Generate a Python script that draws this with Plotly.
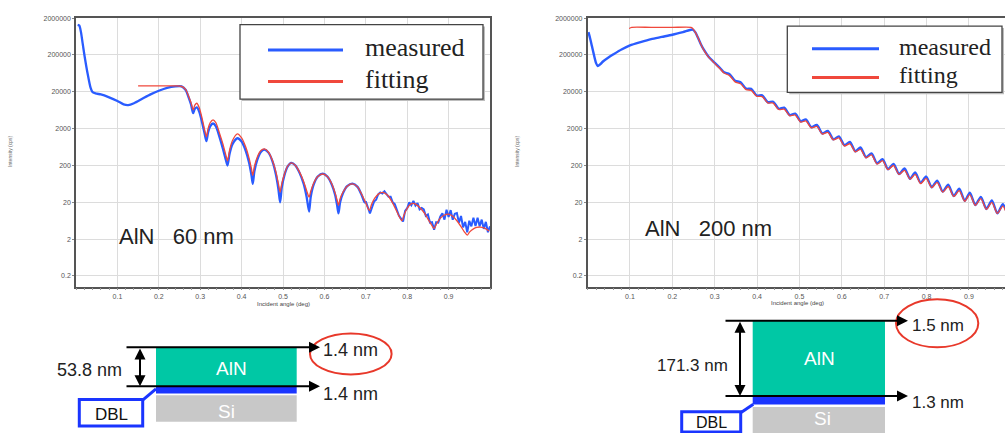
import numpy as np
import plotly.graph_objects as go

W, H = 1005, 433
def px(x): return x / W
def py(y): return 1 - y / H

BLUE = "#2a5cff"
RED = "#f0483c"

ang60_meas = [0.004, 0.008, 0.012, 0.016, 0.020, 0.025, 0.030, 0.035, 0.040, 0.050, 0.060, 0.080,
              0.100, 0.115, 0.126, 0.140, 0.160, 0.180, 0.200, 0.220, 0.240, 0.255, 0.265, 0.272,
              0.278, 0.283, 0.287, 0.292, 0.298, 0.305, 0.311, 0.315, 0.319, 0.324, 0.331, 0.338,
              0.346, 0.355, 0.362, 0.366, 0.371, 0.378, 0.390, 0.400, 0.410, 0.418, 0.424, 0.427,
              0.431, 0.438, 0.446, 0.455, 0.465, 0.475, 0.483, 0.489, 0.493, 0.497, 0.503, 0.511,
              0.520, 0.530, 0.540, 0.550, 0.557, 0.563, 0.567, 0.574, 0.584, 0.596, 0.607, 0.618,
              0.626, 0.631, 0.634, 0.638, 0.645, 0.655, 0.668, 0.680, 0.690, 0.697, 0.700]
log60_meas = [6.12, 6.10, 5.92, 5.62, 5.32, 4.98, 4.68, 4.42, 4.29, 4.25, 4.23, 4.15,
              4.05, 3.96, 3.94, 3.99, 4.11, 4.23, 4.33, 4.41, 4.45, 4.45, 4.35, 4.15,
              3.95, 3.72, 3.84, 3.88, 3.75, 3.45, 3.15, 2.96, 3.20, 3.36, 3.44, 3.36,
              3.10, 2.75, 2.45, 2.30, 2.62, 2.88, 3.04, 2.95, 2.70, 2.38, 2.02, 1.80,
              2.15, 2.46, 2.66, 2.73, 2.65, 2.40, 2.05, 1.65, 1.30, 1.70, 2.02, 2.27,
              2.37, 2.30, 2.10, 1.80, 1.45, 1.05, 1.45, 1.78, 2.00, 2.08, 2.00, 1.78,
              1.50, 1.20, 1.00, 1.30, 1.55, 1.74, 1.81, 1.72, 1.50, 1.30, 1.33]

# noisy tail of the measured 60 nm curve
ang60_tail = [0.700, 0.705, 0.710, 0.715, 0.720, 0.725, 0.730, 0.735, 0.740, 0.745, 0.750,
              0.755, 0.760, 0.765, 0.770, 0.775, 0.780, 0.785, 0.790, 0.795, 0.800, 0.805,
              0.810, 0.815, 0.820, 0.825, 0.830, 0.835, 0.840, 0.845, 0.850, 0.855, 0.860,
              0.865, 0.870, 0.875, 0.880, 0.885, 0.890, 0.895, 0.900, 0.905, 0.910, 0.915,
              0.920, 0.925, 0.930, 0.935, 0.940, 0.945, 0.950, 0.955, 0.960, 0.965, 0.970,
              0.975, 0.980, 0.985, 0.990, 0.995, 1.000]
log60_tail = [1.33, 1.13, 1.00, 1.16, 1.32, 1.37, 1.52, 1.57, 1.54, 1.60, 1.52,
              1.45, 1.45, 1.30, 1.25, 1.11, 0.94, 0.86, 0.78, 1.07, 1.14, 1.30,
              1.22, 1.34, 1.21, 1.28, 1.11, 1.15, 1.11, 0.93, 0.97, 0.75, 0.76,
              0.56, 0.76, 0.75, 0.92, 1.00, 0.83, 1.10, 0.90, 1.09, 0.83, 0.99,
              1.01, 0.75, 0.93, 0.62, 0.77, 0.49, 0.80, 0.65, 0.88, 0.66, 0.88,
              0.65, 0.83, 0.58, 0.77, 0.49, 0.65]

ang60_fit = [0.150, 0.200, 0.240, 0.255, 0.265, 0.272, 0.278, 0.283, 0.287, 0.292, 0.298,
             0.305, 0.311, 0.315, 0.319, 0.324, 0.331, 0.338, 0.346, 0.355, 0.362, 0.366,
             0.371, 0.378, 0.390, 0.400, 0.410, 0.418, 0.424, 0.427, 0.431, 0.438, 0.446,
             0.455, 0.465, 0.475, 0.483, 0.489, 0.493, 0.497, 0.503, 0.511, 0.520, 0.530,
             0.540, 0.550, 0.557, 0.563, 0.567, 0.574, 0.584, 0.596, 0.607, 0.618, 0.626,
             0.631, 0.634, 0.638, 0.645, 0.655, 0.668, 0.680, 0.690, 0.700, 0.706, 0.709,
             0.714, 0.722, 0.731, 0.741, 0.752, 0.762, 0.772, 0.780, 0.787, 0.792, 0.799,
             0.806, 0.813, 0.822, 0.832, 0.842, 0.851, 0.858, 0.865, 0.871, 0.879, 0.889,
             0.900, 0.910, 0.920, 0.930, 0.938, 0.945, 0.951, 0.960, 0.968, 0.977, 0.987, 0.998]
log60_fit = [4.46, 4.46, 4.46, 4.45, 4.36, 4.18, 4.00, 3.81, 3.94, 3.99, 3.86,
             3.56, 3.25, 3.08, 3.30, 3.46, 3.54, 3.46, 3.20, 2.88, 2.58, 2.43,
             2.72, 2.98, 3.16, 3.05, 2.80, 2.50, 2.20, 2.03, 2.28, 2.53, 2.70,
             2.75, 2.66, 2.42, 2.12, 1.80, 1.58, 1.80, 2.05, 2.28, 2.37, 2.30,
             2.12, 1.86, 1.62, 1.44, 1.60, 1.82, 2.00, 2.07, 2.00, 1.80, 1.55,
             1.35, 1.22, 1.40, 1.58, 1.74, 1.80, 1.72, 1.52, 1.28, 1.12, 1.08,
             1.25, 1.42, 1.53, 1.57, 1.50, 1.34, 1.12, 0.93, 0.80, 0.95, 1.12,
             1.23, 1.27, 1.24, 1.14, 1.00, 0.83, 0.70, 0.59, 0.72, 0.86, 0.95,
             0.98, 0.92, 0.80, 0.64, 0.50, 0.41, 0.50, 0.58, 0.62, 0.63, 0.60, 0.52]

# ---------------- data: AlN 200 nm ----------------
ang200_meas = [0.002, 0.006, 0.010, 0.015, 0.020, 0.024, 0.030, 0.037, 0.050, 0.061, 0.080,
               0.100, 0.125, 0.150, 0.175, 0.200, 0.225, 0.248, 0.254, 0.260, 0.267, 0.275,
               0.285, 0.295, 0.305, 0.313, 0.322, 0.335, 0.348, 0.361, 0.374, 0.386, 0.399,
               0.412, 0.425, 0.438, 0.451, 0.464, 0.477, 0.490, 0.503, 0.515, 0.528, 0.541,
               0.554, 0.567, 0.580, 0.593, 0.606, 0.619, 0.632, 0.644, 0.657, 0.670, 0.683,
               0.696, 0.709, 0.722, 0.735, 0.748, 0.761, 0.773, 0.786, 0.799, 0.812, 0.825,
               0.838, 0.851, 0.864, 0.877, 0.890, 0.902, 0.915, 0.928, 0.941, 0.954, 0.967,
               0.980, 0.993]
log200_meas = [5.92, 5.75, 5.55, 5.30, 5.08, 5.00, 5.05, 5.13, 5.24, 5.32, 5.45,
               5.56, 5.65, 5.73, 5.79, 5.85, 5.92, 5.99, 5.92, 5.78, 5.60, 5.43,
               5.26, 5.14, 5.03, 4.94, 4.83, 4.78, 4.60, 4.56, 4.385, 4.38, 4.20,
               4.205, 4.02, 4.03, 3.84, 3.87, 3.67, 3.705, 3.50, 3.55, 3.34, 3.40,
               3.17, 3.24, 3.01, 3.09, 2.85, 2.94, 2.685, 2.79, 2.525, 2.63, 2.36,
               2.47, 2.20, 2.34, 2.07, 2.22, 1.94, 2.11, 1.83, 2.00, 1.71, 1.89,
               1.59, 1.78, 1.47, 1.67, 1.34, 1.56, 1.23, 1.45, 1.12, 1.35, 1.00,
               1.25, 0.90]

ang200_fit = [0.098, 0.104, 0.150, 0.200, 0.244, 0.249, 0.254, 0.260, 0.267, 0.275, 0.285,
              0.295, 0.305, 0.313, 0.322, 0.335, 0.348, 0.361, 0.374, 0.386, 0.399, 0.412,
              0.425, 0.438, 0.451, 0.464, 0.477, 0.490, 0.503, 0.515, 0.528, 0.541, 0.554,
              0.567, 0.580, 0.593, 0.606, 0.619, 0.632, 0.644, 0.657, 0.670, 0.683, 0.696,
              0.709, 0.722, 0.735, 0.748, 0.761, 0.773, 0.786, 0.799, 0.812, 0.825, 0.838,
              0.851, 0.864, 0.877, 0.890, 0.902, 0.915, 0.928, 0.941, 0.954, 0.967, 0.980, 0.993]
log200_fit = [6.02, 6.05, 6.05, 6.05, 6.05, 6.01, 5.92, 5.78, 5.60, 5.42, 5.25,
              5.13, 5.01, 4.92, 4.81, 4.74, 4.57, 4.52, 4.36, 4.34, 4.18, 4.17,
              4.00, 3.995, 3.82, 3.83, 3.65, 3.67, 3.48, 3.51, 3.32, 3.36, 3.155,
              3.20, 2.995, 3.05, 2.83, 2.89, 2.67, 2.74, 2.51, 2.59, 2.34, 2.43,
              2.19, 2.30, 2.06, 2.17, 1.93, 2.06, 1.81, 1.95, 1.70, 1.84, 1.58,
              1.73, 1.46, 1.62, 1.33, 1.51, 1.22, 1.40, 1.11, 1.30, 1.00, 1.20, 0.82]

y_tickvals = [0.2, 2, 20, 200, 2000, 20000, 200000, 2000000]
y_ticktext = ["0.2", "2", "20", "200", "2000", "20000", "200000", "2000000"]
x_tickvals = [0.1, 0.2, 0.3, 0.4, 0.5, 0.6, 0.7, 0.8, 0.9]
x_ticktext = ["0.1", "0.2", "0.3", "0.4", "0.5", "0.6", "0.7", "0.8", "0.9"]

def I(v):
    return np.power(10.0, np.array(v))

fig = go.Figure()
spl = dict(shape="spline", smoothing=0.7)
fig.add_trace(go.Scatter(x=ang60_meas, y=I(log60_meas), mode="lines", xaxis="x", yaxis="y",
                         line=dict(color=BLUE, width=2.3, **spl), showlegend=False, name="measured"))
fig.add_trace(go.Scatter(x=ang60_tail, y=I(log60_tail), mode="lines", xaxis="x", yaxis="y",
                         line=dict(color=BLUE, width=2.0), showlegend=False, name="measured"))
fig.add_trace(go.Scatter(x=ang60_fit, y=I(log60_fit), mode="lines", xaxis="x", yaxis="y",
                         line=dict(color=RED, width=1.3, **spl), showlegend=False, name="fitting"))
fig.add_trace(go.Scatter(x=ang200_meas, y=I(log200_meas), mode="lines", xaxis="x2", yaxis="y2",
                         line=dict(color=BLUE, width=2.4, **spl), showlegend=False, name="measured"))
fig.add_trace(go.Scatter(x=ang200_fit, y=I(log200_fit), mode="lines", xaxis="x2", yaxis="y2",
                         line=dict(color=RED, width=1.3, **spl), showlegend=False, name="fitting"))

tickfont = dict(family="Liberation Sans", size=7, color="#555")
def xax(domain, rng):
    return dict(domain=domain, range=rng, tickmode="array", tickvals=x_tickvals, ticktext=x_ticktext,
                tickfont=tickfont, showgrid=True, gridcolor="#dcdcdc", gridwidth=1, zeroline=False,
                showline=True, linecolor="#555", linewidth=1.5, mirror=True,
                ticks="outside", ticklen=2, tickcolor="#888",
                minor=dict(dtick=0.02, tick0=0, ticks="outside", ticklen=2, tickcolor="#999", showgrid=False))
def yax(domain, anchor, mirror):
    return dict(domain=domain, type="log", range=[-0.99, 6.315], anchor=anchor, tickmode="array",
                tickvals=y_tickvals, ticktext=y_ticktext, tickfont=tickfont, showgrid=True,
                gridcolor="#dcdcdc", gridwidth=1, zeroline=False, showline=True, linecolor="#555",
                linewidth=1.5, mirror=mirror, ticks="outside", ticklen=2, tickcolor="#888")

ydom = [py(285.7), py(14.7)]
fig.update_layout(
    width=W, height=H, autosize=False,
    margin=dict(l=0, r=0, t=0, b=0),
    paper_bgcolor="white", plot_bgcolor="white",
    xaxis=xax([px(76), px(490)], [0, 1.0]) | dict(anchor="y"),
    yaxis=yax(ydom, "x", True),
    xaxis2=xax([px(587.6), 1.0], [0, 0.985]) | dict(anchor="y2"),
    yaxis2=yax(ydom, "x2", False),
)

shapes = []
annots = []

def rect(x0, y0, x1, y1, **kw):
    shapes.append(dict(type="rect", xref="paper", yref="paper", x0=px(x0), x1=px(x1),
                       y0=py(y1), y1=py(y0), **kw))
def seg(x0, y0, x1, y1, color, width):
    shapes.append(dict(type="line", xref="paper", yref="paper", x0=px(x0), x1=px(x1),
                       y0=py(y0), y1=py(y1), line=dict(color=color, width=width)))
def text(x, y, s, size, color="#222", family="Liberation Sans", xanchor="center", **kw):
    annots.append(dict(x=px(x), y=py(y), xref="paper", yref="paper", text=s, showarrow=False,
                       xanchor=xanchor, yanchor="middle", font=dict(family=family, size=size, color=color), **kw))
def arrow(xt, yt, ax, ay, both=False):
    d = dict(x=px(xt), y=py(yt), xref="paper", yref="paper", ax=ax, ay=ay, axref="pixel", ayref="pixel",
             text="", showarrow=True, arrowhead=2, arrowsize=1.1, arrowwidth=2, arrowcolor="black",
             standoff=0, startstandoff=0)
    if both:
        d.update(arrowside="end+start", startarrowhead=2, startarrowsize=1.1)
    annots.append(d)

# legends (drawn)
def legend(x0, y0, x1, y1, lx0, lx1, yb, yr, tx, size):
    rect(x0 + 2, y0 + 2, x1 + 2, y1 + 2, line=dict(width=0), fillcolor="#bdbdbd")
    rect(x0, y0, x1, y1, line=dict(color="#444", width=1.3), fillcolor="white")
    seg(lx0, yb, lx1, yb, BLUE, 3)
    seg(lx0, yr, lx1, yr, RED, 3)
    text(tx, yb - 2, "measured", size, family="Liberation Serif", xanchor="left")
    text(tx, yr - 2, "fitting", size, family="Liberation Serif", xanchor="left")

legend(240, 21.7, 483, 96.7, 268, 343, 47.3, 79, 363, 26)
legend(787.3, 23.3, 1002, 90, 812, 879, 46, 75, 897, 24)

# sample labels
text(117, 235, "AlN\u00a0\u00a0\u00a060 nm", 22, xanchor="left")
text(643, 227, "AlN\u00a0\u00a0\u00a0200 nm", 22, xanchor="left")

# axis titles
text(283, 303, "Incident angle (deg)", 6, color="#444")
text(797, 302, "Incident angle (deg)", 6, color="#444")
text(10, 150, "Intensity (cps)", 5, color="#666", textangle=-90)
text(517, 150, "Intensity (cps)", 5, color="#666", textangle=-90)

TEAL = "#00c8a5"
DBLC = "#1a35ff"
GRAY = "#c8c8c8"
ERED = "#e8382a"

# left schematic (60 nm)
rect(156, 347, 296.7, 386, line=dict(width=0), fillcolor=TEAL)
rect(156, 386, 296.7, 393.3, line=dict(width=0), fillcolor=DBLC)
rect(156, 395, 296.7, 421.7, line=dict(width=0), fillcolor=GRAY)
rect(79.3, 399.3, 142.7, 426, line=dict(color=DBLC, width=3), fillcolor="white")
seg(142.7, 400, 156, 388.5, DBLC, 3)
shapes.append(dict(type="circle", xref="paper", yref="paper", x0=px(310), x1=px(391.6),
                   y0=py(374), y1=py(332.7), line=dict(color=ERED, width=2)))
arrow(320, 346.7, -195, 0)
arrow(320, 386, -195, 0)
arrow(140, 386, 0, -39.3, both=True)
text(89.5, 370, "53.8 nm", 18)
text(231.7, 368.3, "AlN", 19, color="white")
text(226, 411.7, "Si", 19, color="white")
text(111, 414, "DBL", 17, color="#111")
text(321, 349.3, "1.4 nm", 18, xanchor="left")
text(321, 393.3, "1.4 nm", 18, xanchor="left")

# right schematic (200 nm)
rect(752.7, 320, 885, 395.7, line=dict(width=0), fillcolor=TEAL)
rect(752.7, 395.7, 885, 404.3, line=dict(width=0), fillcolor=DBLC)
rect(752.7, 406.7, 885, 440, line=dict(width=0), fillcolor=GRAY)
rect(681.7, 411.7, 740.7, 432, line=dict(color=DBLC, width=3), fillcolor="white")
seg(740.7, 412.5, 753.3, 404, DBLC, 3)
shapes.append(dict(type="circle", xref="paper", yref="paper", x0=px(896), x1=px(978.3),
                   y0=py(346.7), y1=py(298.3), line=dict(color=ERED, width=2)))
arrow(908, 320, -184, 0)
arrow(908, 395.7, -184, 0)
arrow(740, 395.7, 0, -75.7, both=True)
text(692, 365, "171.3 nm", 17)
text(819, 358, "AlN", 19, color="white")
text(822.5, 418.3, "Si", 19, color="white")
text(711, 422, "DBL", 16, color="#111")
text(910, 325, "1.5 nm", 17, xanchor="left")
text(910, 402, "1.3 nm", 17, xanchor="left")

fig.update_layout(shapes=shapes, annotations=annots)
fig.write_html("out.html", config={"displayModeBar": False},
               post_script="document.body.style.margin='0px';document.body.style.overflow='hidden';")
